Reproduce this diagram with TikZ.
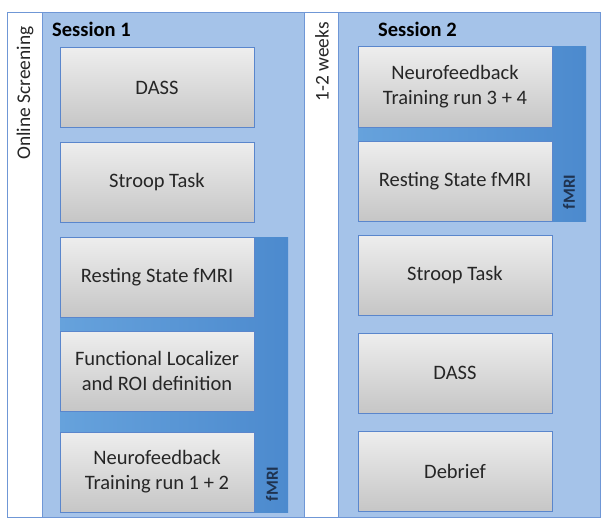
\documentclass[tikz,border=0pt]{standalone}
\usepackage{fontspec}
\setmainfont{Carlito}
\definecolor{frameblue}{HTML}{6F97D6}
\definecolor{panelblue}{HTML}{A5C3E9}
\definecolor{barleft}{HTML}{66A2DC}
\definecolor{barright}{HTML}{4C8ACE}
\definecolor{boxtop}{HTML}{EEEEEE}
\definecolor{boxbottom}{HTML}{C6C6C6}
\definecolor{boxedge}{HTML}{5A86CC}
\definecolor{textgray}{HTML}{262626}
\definecolor{navy}{HTML}{1F3350}
\tikzset{
  panel/.style={draw=frameblue, line width=1pt, fill=panelblue},
  mribar/.style={left color=barleft, right color=barright, draw=none},
  stepbox/.style={draw=boxedge, line width=1pt, top color=boxtop, bottom color=boxbottom,
    minimum width=194pt, minimum height=80pt, inner sep=0pt, align=center,
    text=textgray, font=\fontsize{20.5}{25}\selectfont},
  sidelabel/.style={rotate=90, text=textgray, font=\fontsize{19.4}{22}\selectfont, inner sep=0pt},
  sessionlabel/.style={anchor=base west, inner sep=0pt, font=\fontsize{20.5}{22}\selectfont\bfseries},
  mrilabel/.style={rotate=90, text=navy, inner sep=0pt, font=\fontsize{17}{20}\selectfont\bfseries}
}
\begin{document}
\begin{tikzpicture}[x=1pt, y=-1pt]
  \useasboundingbox (0,0) rectangle (603,519);
  % outer white frame and the two session panels
  \draw[draw=frameblue, line width=1pt, fill=white] (7,13) rectangle (600,517);
  \draw[panel] (42,13) rectangle (304,517);
  \draw[panel] (338,13) rectangle (600,517);

  % fMRI blocks behind the scanner steps
  \fill[mribar] (60,237) rectangle (288,512);
  \fill[mribar] (358,47) rectangle (586,221);

  % side labels
  \node[sidelabel] (screen) at (25,93) {Online Screening};
  \node[sidelabel] (weeks) at (322,62) {1-2 weeks};

  % session titles
  \node[sessionlabel] (s1) at (52,37) {Session 1};
  \node[sessionlabel] (s2) at (378,37) {Session 2};

  % session 1 steps
  \node[stepbox] (dass1) at (157,87.5) {DASS};
  \node[stepbox] (stroop1) at (157,182) {Stroop Task};
  \node[stepbox] (rest1) at (157,277) {Resting State fMRI};
  \node[stepbox] (loc1) at (157,371) {Functional Localizer\\and ROI definition};
  \node[stepbox] (nf1) at (157,472) {Neurofeedback\\Training run 1 + 2};

  % session 2 steps
  \node[stepbox] (nf2) at (455,87) {Neurofeedback\\Training run 3 + 4};
  \node[stepbox] (rest2) at (455,181) {Resting State fMRI};
  \node[stepbox] (stroop2) at (455,275) {Stroop Task};
  \node[stepbox] (dass2) at (455,373) {DASS};
  \node[stepbox] (debrief) at (455,471) {Debrief};

  % fMRI labels
  \node[mrilabel] (mri1) at (272,484) {fMRI};
  \node[mrilabel] (mri2) at (569,192) {fMRI};
\end{tikzpicture}
\end{document}
